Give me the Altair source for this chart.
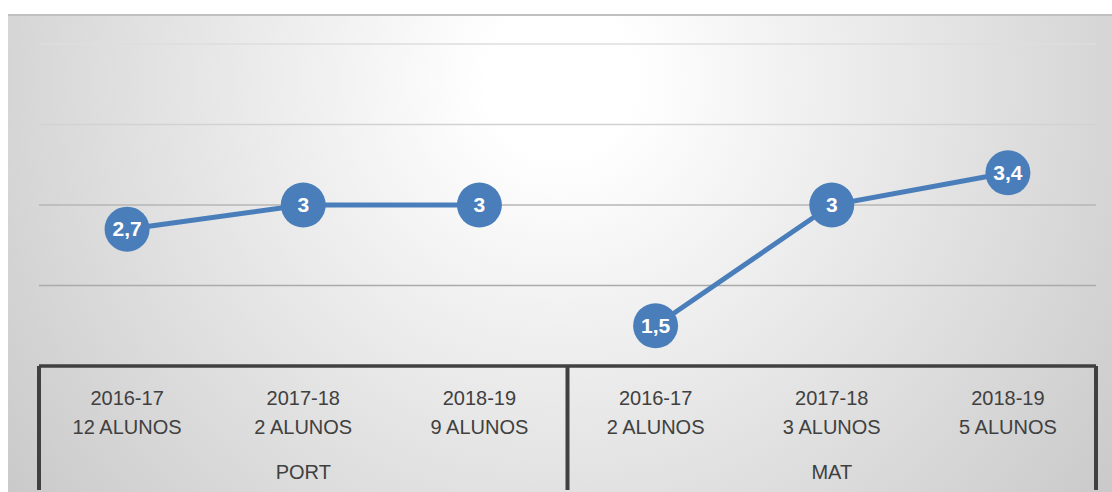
import altair as alt
import pandas as pd

# ---- data ----
groups = ["PORT", "PORT", "PORT", "MAT", "MAT", "MAT"]
years = ["2016-17", "2017-18", "2018-19", "2016-17", "2017-18", "2018-19"]
alunos = ["12 ALUNOS", "2 ALUNOS", "9 ALUNOS", "2 ALUNOS", "3 ALUNOS", "5 ALUNOS"]
values = [2.7, 3, 3, 1.5, 3, 3.4]
group_names = ["PORT", "MAT"]
grid_levels = [2, 3, 4, 5]

W, H = 1057, 322
BLUE = "#4a7ebb"
DARK = "#404040"
FONT = "Liberation Sans"

df = pd.DataFrame({
    "group": groups,
    "year": years,
    "alunos": alunos,
    "value": values,
})
df["pos"] = [i + 0.5 for i in range(len(df))]
df["label"] = [f"{v:g}".replace(".", ",") for v in values]

gdf = pd.DataFrame({"group": group_names})
gdf["pos"] = [df[df.group == g]["pos"].mean() for g in group_names]

bdf = pd.DataFrame({"b": [0, 3, 6]})
griddf = pd.DataFrame({"g": grid_levels})

xs = alt.Scale(domain=[0, 6], nice=False, zero=False)
ys = alt.Scale(domain=[1, 5], nice=False, zero=False)

gradient = alt.RadialGradient(
    gradient="radial",
    stops=[
        alt.GradientStop(offset=0, color="#ffffff"),
        alt.GradientStop(offset=0.1, color="#ffffff"),
        alt.GradientStop(offset=1, color="#c6c6c6"),
    ],
    x1=0.5, y1=0.045, r1=0,
    x2=0.5, y2=0.045, r2=0.5,
)

one = pd.DataFrame({"a": [0]})

bg = alt.Chart(one).mark_rect(fill=gradient).encode(
    x=alt.value(-31), x2=alt.value(1073), y=alt.value(-29), y2=alt.value(1431)
)
topline = alt.Chart(one).mark_rule(color="#c0c0c0", strokeWidth=2).encode(
    x=alt.value(-31), x2=alt.value(1073), y=alt.value(-29)
)

grid = alt.Chart(griddf).mark_rule(strokeWidth=1.5).encode(
    y=alt.Y("g:Q", scale=ys, axis=None),
    color=alt.Color("g:O", scale=alt.Scale(domain=[2, 3, 4, 5],
                                           range=["#aaaaaa", "#b6b6b6", "#d2d2d2", "#dedede"]),
                    legend=None),
)

axisline = alt.Chart(one).mark_rule(color=DARK, strokeWidth=3.5).encode(
    y=alt.value(H), x=alt.value(0), x2=alt.value(W)
)

dividers = alt.Chart(bdf).mark_rule(color=DARK, strokeWidth=4).encode(
    x=alt.X("b:Q", scale=xs, axis=None), y=alt.value(H), y2=alt.value(446)
)

line = alt.Chart(df).mark_line(color=BLUE, strokeWidth=5).encode(
    x=alt.X("pos:Q", scale=xs, axis=None),
    y=alt.Y("value:Q", scale=ys, axis=None),
    detail="group:N",
)

points = alt.Chart(df).mark_circle(color=BLUE, size=2025, opacity=1).encode(
    x=alt.X("pos:Q", scale=xs, axis=None),
    y=alt.Y("value:Q", scale=ys, axis=None),
)

labels = alt.Chart(df).mark_text(color="white", font=FONT, fontSize=21,
                                 fontWeight="bold", baseline="middle", dy=1).encode(
    x=alt.X("pos:Q", scale=xs, axis=None),
    y=alt.Y("value:Q", scale=ys, axis=None),
    text="label:N",
)

year_txt = alt.Chart(df).mark_text(color=DARK, font=FONT, fontSize=20,
                                   baseline="middle").encode(
    x=alt.X("pos:Q", scale=xs, axis=None), y=alt.value(355), text="year:N"
)
alunos_txt = alt.Chart(df).mark_text(color=DARK, font=FONT, fontSize=20,
                                     baseline="middle").encode(
    x=alt.X("pos:Q", scale=xs, axis=None), y=alt.value(384), text="alunos:N"
)
group_txt = alt.Chart(gdf).mark_text(color=DARK, font=FONT, fontSize=20,
                                     baseline="middle").encode(
    x=alt.X("pos:Q", scale=xs, axis=None), y=alt.value(429), text="group:N"
)

chart = alt.layer(
    bg, topline, grid, axisline, dividers, line, points, labels,
    year_txt, alunos_txt, group_txt
).properties(
    width=W, height=H,
    autosize=alt.AutoSizeParams(type="none"),
    padding={"left": 39, "top": 44, "right": 16, "bottom": 126},
    background="white",
).configure_view(stroke=None)

chart.save("out.html", embed_options={"renderer": "svg", "actions": False})
